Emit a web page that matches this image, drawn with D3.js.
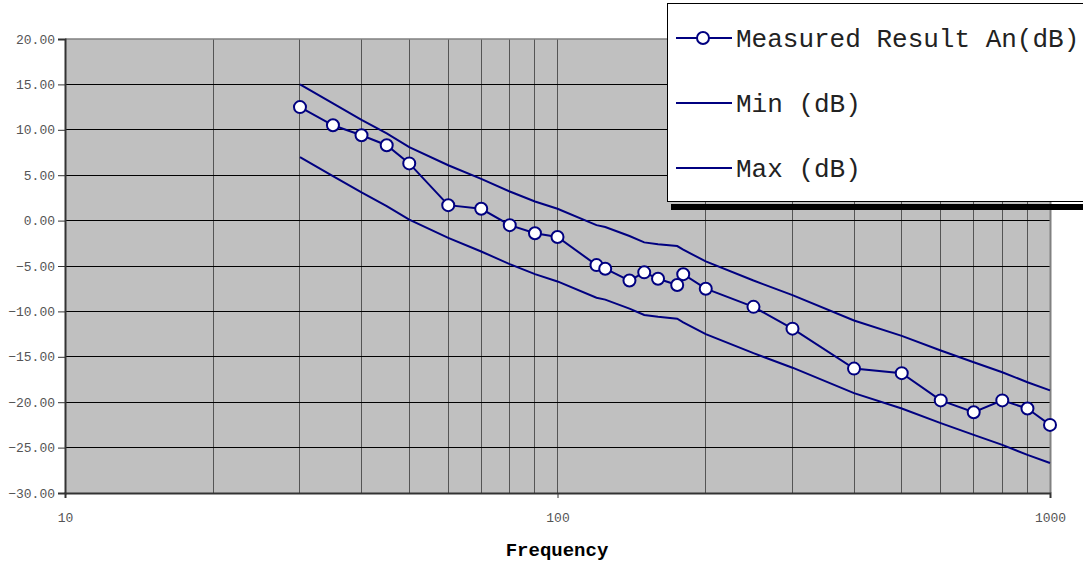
<!DOCTYPE html>
<html><head><meta charset="utf-8">
<script src="https://cdn.jsdelivr.net/npm/d3@7"></script>
<style>html,body{margin:0;padding:0;background:#fff;}svg{display:block;}</style>
</head><body>
<script>
const freq = [30,35,40,45,50,60,70,80,90,100,120,125,140,150,160,175,180,200,250,300,400,500,600,700,800,900,1000];
const measured = [12.5,10.5,9.4,8.3,6.3,1.7,1.3,-0.5,-1.4,-1.8,-4.9,-5.3,-6.6,-5.7,-6.4,-7.1,-5.9,-7.5,-9.5,-11.9,-16.3,-16.8,-19.8,-21.1,-19.8,-20.7,-22.5];
const maxDb = [15.0,12.9,11.1,9.6,8.1,6.1,4.6,3.2,2.1,1.3,-0.5,-0.7,-1.7,-2.4,-2.6,-2.8,-3.2,-4.5,-6.6,-8.2,-11.0,-12.7,-14.3,-15.6,-16.7,-17.8,-18.7];
const minDb = [7.0,4.9,3.1,1.6,0.1,-1.9,-3.4,-4.8,-5.9,-6.7,-8.5,-8.7,-9.7,-10.4,-10.6,-10.8,-11.2,-12.5,-14.6,-16.2,-19.0,-20.7,-22.3,-23.6,-24.7,-25.8,-26.7];
const yTicks = [-30,-25,-20,-15,-10,-5,0,5,10,15,20];
const xTickLabels = [10,100,1000];
const xGrid = [20,30,40,50,60,70,80,90,100,200,300,400,500,600,700,800,900];
const seriesNames = ["Measured Result An(dB)","Min (dB)","Max (dB)"];

const W = 1083, H = 564;
const L = 65, R = 1050, T = 39, B = 493;
const navy = "#000080";
const mono = "'Liberation Mono','Courier New',monospace";

const svg = d3.select("body").append("svg").attr("width", W).attr("height", H);
const x = d3.scaleLog().domain([10,1000]).range([L,R]);
const y = d3.scaleLinear().domain([-30,20]).range([B,T]);

svg.append("rect").attr("x",L).attr("y",T).attr("width",R-L).attr("height",B-T).attr("fill","#c0c0c0");

// vertical grid
svg.append("g").selectAll("line").data(xGrid).join("line")
  .attr("x1",d=>x(d)).attr("x2",d=>x(d)).attr("y1",T).attr("y2",B)
  .attr("stroke","#555").attr("stroke-width",1).attr("shape-rendering","crispEdges");
// horizontal grid
svg.append("g").selectAll("line").data(yTicks.filter(d=>d>-30 && d<20)).join("line")
  .attr("x1",L).attr("x2",R).attr("y1",d=>y(d)).attr("y2",d=>y(d))
  .attr("stroke","#000").attr("stroke-width",1).attr("shape-rendering","crispEdges");
// border top/right
svg.append("line").attr("x1",L).attr("x2",R).attr("y1",T).attr("y2",T).attr("stroke","#808080").attr("stroke-width",1.5);
svg.append("line").attr("x1",R+0.5).attr("x2",R+0.5).attr("y1",T).attr("y2",B).attr("stroke","#808080").attr("stroke-width",2);

// y axis
const yAxis = svg.append("g").attr("transform",`translate(${L},0)`)
  .call(d3.axisLeft(y).tickValues(yTicks).tickFormat(d3.format(".2f")).tickSize(7).tickPadding(3));
yAxis.select(".domain").attr("stroke","#333").attr("stroke-width",2);
yAxis.selectAll(".tick line").attr("stroke","#333");
yAxis.selectAll("text").attr("font-family",mono).attr("font-size",13).attr("fill","#555").text(d=>d3.format(".2f")(d).replace("-","-"));

// x axis
const xAxis = svg.append("g").attr("transform",`translate(0,${B})`)
  .call(d3.axisBottom(x).tickValues(xTickLabels).tickFormat(d3.format("d")).tickSize(5).tickPadding(15));
xAxis.select(".domain").attr("stroke","#333").attr("stroke-width",2);
xAxis.selectAll(".tick line").attr("stroke","#333");
xAxis.selectAll("text").attr("font-family",mono).attr("font-size",13).attr("fill","#555");

svg.append("text").attr("x",557).attr("y",556).attr("text-anchor","middle")
  .attr("font-family",mono).attr("font-weight","bold").attr("font-size",19).attr("fill","#000").text("Frequency");

const line = d3.line().x(d=>x(d[0])).y(d=>y(d[1]));
const mk = arr => freq.map((f,i)=>[f,arr[i]]);
[minDb,maxDb].forEach(a=>{
  svg.append("path").datum(mk(a)).attr("d",line).attr("fill","none").attr("stroke",navy).attr("stroke-width",2);
});
svg.append("path").datum(mk(measured)).attr("d",line).attr("fill","none").attr("stroke",navy).attr("stroke-width",2);
svg.append("g").selectAll("circle").data(mk(measured)).join("circle")
  .attr("cx",d=>x(d[0])).attr("cy",d=>y(d[1])).attr("r",6)
  .attr("fill","#fff").attr("stroke",navy).attr("stroke-width",2);

// legend
const lg = svg.append("g");
lg.append("rect").attr("x",671).attr("y",204).attr("width",420).attr("height",6).attr("fill","#000");
lg.append("rect").attr("x",667.5).attr("y",3.5).attr("width",420).attr("height",198).attr("fill","#fff").attr("stroke","#000").attr("stroke-width",1);
const ly = [38,103,168];
seriesNames.forEach((n,i)=>{
  lg.append("line").attr("x1",676).attr("x2",732).attr("y1",ly[i]).attr("y2",ly[i]).attr("stroke",navy).attr("stroke-width",2);
  if(i===0) lg.append("circle").attr("cx",703).attr("cy",ly[i]).attr("r",6).attr("fill","#fff").attr("stroke",navy).attr("stroke-width",2);
  lg.append("text").attr("x",736).attr("y",ly[i]).attr("dy","0.35em").attr("font-family",mono).attr("font-size",26).attr("fill","#222").text(n);
});
</script>
</body></html>
